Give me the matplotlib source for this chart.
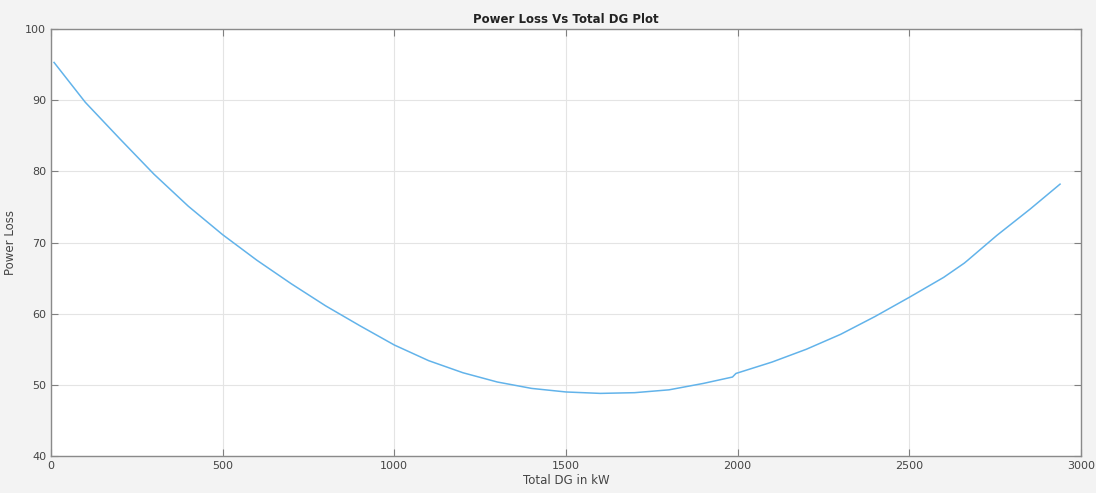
import matplotlib
matplotlib.use("Agg")
import matplotlib.pyplot as plt

# values
total_dg = [9, 100, 200, 300, 400, 500, 600, 700, 800, 900, 1000, 1100, 1200,
            1300, 1400, 1500, 1600, 1700, 1800, 1900, 1985, 1995, 2100, 2200,
            2300, 2400, 2500, 2600, 2660, 2670, 2755, 2852, 2939]
power_loss = [95.3, 89.7, 84.6, 79.6, 75.1, 71.1, 67.5, 64.2, 61.1, 58.3, 55.6,
              53.4, 51.7, 50.4, 49.5, 49.0, 48.8, 48.9, 49.3, 50.2, 51.1, 51.6,
              53.2, 55.0, 57.1, 59.6, 62.3, 65.1, 67.1, 67.5, 71.0, 74.7, 78.2]

fig = plt.figure(figsize=(10.96, 4.93), dpi=100, facecolor="#f3f3f3")
ax = fig.add_axes([0.0465, 0.075, 0.9398, 0.8662])
ax.set_facecolor("white")

ax.plot(total_dg, power_loss, color="#62b3ea", linewidth=1.1)

ax.set_xlim(0, 3000)
ax.set_ylim(40, 100)
ax.set_xticks(range(0, 3001, 500))
ax.set_yticks(range(40, 101, 10))

ax.grid(True, color="#e4e4e4", linewidth=0.8)
ax.tick_params(direction="in", top=True, right=True, length=5, width=0.8,
               colors="#808080", labelcolor="#444444", labelsize=8)
for s in ax.spines.values():
    s.set_color("#8a8a8a")
    s.set_linewidth(1.0)

ax.set_title("Power Loss Vs Total DG Plot", fontsize=8.5, fontweight="bold",
             color="#222222", pad=4)
ax.set_xlabel("Total DG in kW", fontsize=8.5, color="#444444", labelpad=2)
ax.set_ylabel("Power Loss", fontsize=8.5, color="#444444", labelpad=6)

fig.savefig("out.png", dpi=100, facecolor=fig.get_facecolor())
